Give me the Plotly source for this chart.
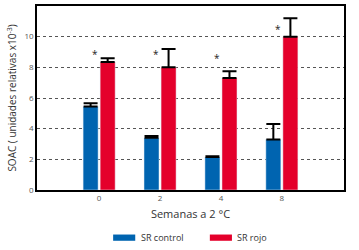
import plotly.graph_objects as go

categories = ["0", "2", "4", "8"]
control_vals = [5.45, 3.4, 2.15, 3.3]
control_err = [0.2, 0.12, 0.05, 1.0]
rojo_vals = [8.35, 8.0, 7.3, 10.0]
rojo_err = [0.25, 1.2, 0.45, 1.2]
star_y = [8.85, 8.85, 8.6, 10.5]
y_ticks = [0, 2, 4, 6, 8, 10, 12]

BLUE = "#0064b0"
RED = "#e4002b"
xpos = list(range(len(categories)))

fig = go.Figure()
fig.add_trace(go.Bar(
    x=xpos, y=control_vals, name="SR control", marker_color=BLUE,
    error_y=dict(type="data", array=control_err, arrayminus=[0]*4, symmetric=False,
                 color="black", thickness=2, width=7),
))
fig.add_trace(go.Bar(
    x=xpos, y=rojo_vals, name="SR rojo", marker_color=RED,
    error_y=dict(type="data", array=rojo_err, arrayminus=[0]*4, symmetric=False,
                 color="black", thickness=2, width=7),
))

for i, sy in enumerate(star_y):
    fig.add_annotation(x=i - 0.07, y=sy, text="*", showarrow=False,
                       font=dict(size=10, color="#222"), xref="x", yref="y")

# custom legend
legend_items = [("SR control", BLUE, 0.248), ("SR rojo", RED, 0.563)]
for label, col, x0 in legend_items:
    fig.add_shape(type="rect", xref="paper", yref="paper",
                  x0=x0, x1=x0 + 0.072, y0=-0.276, y1=-0.242,
                  fillcolor=col, line=dict(width=0))
    fig.add_annotation(xref="paper", yref="paper", x=x0 + 0.083, y=-0.259,
                       text=label, showarrow=False, xanchor="left", yanchor="middle",
                       font=dict(size=9, color="#333"))

fig.update_layout(
    width=359, height=250,
    margin=dict(l=37, r=15, t=6, b=60),
    barmode="group", bargap=0.44, bargroupgap=0.12,
    plot_bgcolor="white", paper_bgcolor="white",
    showlegend=False,
    font=dict(family="Open Sans", color="#333"),
    xaxis=dict(
        range=[-1.02, 4.02], tickvals=xpos, ticktext=categories, automargin=False,
        showline=True, mirror=True, linecolor="black", linewidth=1.5,
        showgrid=False, ticks="", tickfont=dict(size=8, color="#555"),
        title=dict(text="Semanas a 2 °C", font=dict(size=11, color="#333"), standoff=8),
    ),
    yaxis=dict(
        range=[0, 12], tickvals=y_ticks, automargin=False,
        showline=True, mirror=True, linecolor="black", linewidth=1.5,
        showgrid=True, gridcolor="#555", griddash="dot", gridwidth=1,
        zeroline=False, ticks="", tickfont=dict(size=8, color="#555"),
        title=dict(text="SOAC ( unidades relativas x10<sup>-3</sup>)",
                   font=dict(size=10, color="#333"), standoff=6),
    ),
)

fig.write_html("out.html", config={"displayModeBar": False},
               post_script="document.body.style.margin='0';document.body.style.overflow='hidden';")
